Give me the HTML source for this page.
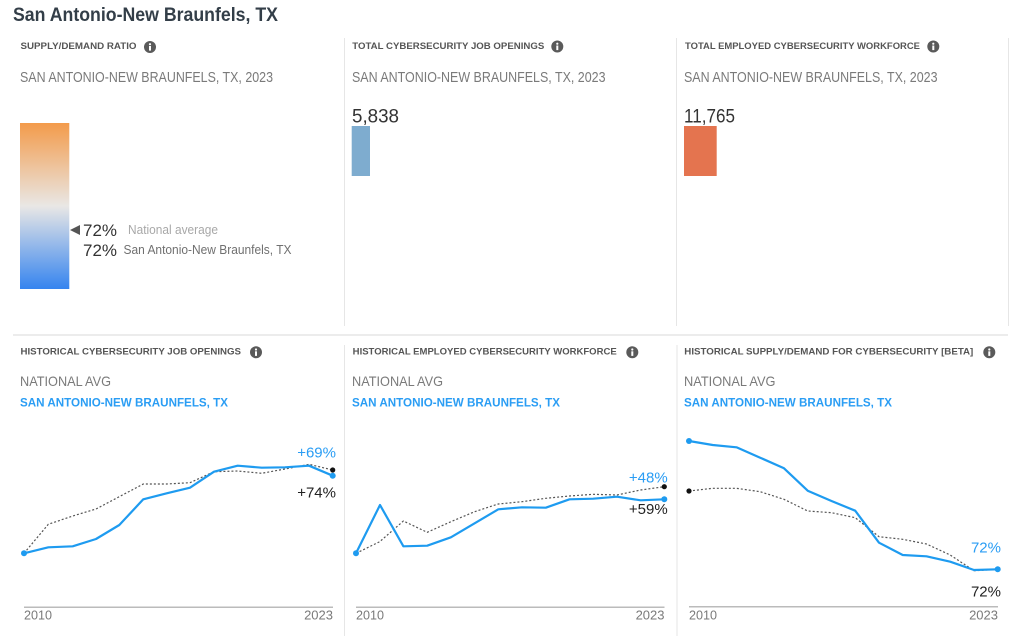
<!DOCTYPE html>
<html><head><meta charset="utf-8"><style>
html,body{margin:0;padding:0;background:#fff;width:1024px;height:636px;overflow:hidden}
svg{display:block}
text{font-family:"Liberation Sans",sans-serif}
.h{font-size:9px;font-weight:bold;fill:#555}
.sub{font-size:15px;fill:#7a7a7a}
.nat{font-size:14px;fill:#7a7a7a}
.blu{font-size:12px;font-weight:bold;fill:#2a9df4}
.yr{font-size:13px;fill:#7a7a7a}
.pb{font-size:15px;fill:#2a9df4}
.pk{font-size:15px;fill:#222}
</style></head><body>
<svg width="1024" height="636" viewBox="0 0 1024 636" xmlns="http://www.w3.org/2000/svg">
<defs>
<linearGradient id="g" x1="0" y1="0" x2="0" y2="1">
<stop offset="0" stop-color="#f39b4b"/>
<stop offset="0.5" stop-color="#e9e7e5"/>
<stop offset="1" stop-color="#3584ef"/>
</linearGradient>
<g id="info"><circle r="6" fill="#5a5a5a"/><circle cx="0" cy="-2.8" r="1.1" fill="#fff"/><rect x="-1" y="-1" width="2" height="4.6" fill="#fff"/></g>
</defs>

<!-- separators -->
<g stroke="#e6e6e6" stroke-width="1">
<line x1="344.5" y1="38" x2="344.5" y2="326"/>
<line x1="676.5" y1="38" x2="676.5" y2="326"/>
<line x1="1008.5" y1="38" x2="1008.5" y2="326"/>
<line x1="13" y1="335" x2="1008" y2="335" stroke-width="1.5"/>
<line x1="344.5" y1="345" x2="344.5" y2="636"/>
<line x1="677" y1="345" x2="677" y2="636"/>
</g>

<text x="13" y="21" font-size="19" font-weight="bold" fill="#333e48" textLength="265" lengthAdjust="spacingAndGlyphs">San Antonio-New Braunfels, TX</text>

<!-- top left -->
<text class="h" x="20.5" y="49" textLength="116" lengthAdjust="spacingAndGlyphs">SUPPLY/DEMAND RATIO</text>
<use href="#info" x="150" y="47"/>
<text class="sub" x="20" y="82" textLength="253" lengthAdjust="spacingAndGlyphs">SAN ANTONIO-NEW BRAUNFELS, TX, 2023</text>
<rect x="20" y="123" width="49.3" height="166" fill="url(#g)"/>
<polygon points="70,230 80,225 80,235" fill="#555"/>
<text x="83" y="236" font-size="17" fill="#333" textLength="34" lengthAdjust="spacingAndGlyphs">72%</text>
<text x="128" y="234" font-size="12.5" fill="#a8a8a8" textLength="90" lengthAdjust="spacingAndGlyphs">National average</text>
<text x="83" y="256" font-size="17" fill="#333" textLength="34" lengthAdjust="spacingAndGlyphs">72%</text>
<text x="123.5" y="254" font-size="12.5" fill="#707070" textLength="168" lengthAdjust="spacingAndGlyphs">San Antonio-New Braunfels, TX</text>

<!-- top center -->
<text class="h" x="352.3" y="49" textLength="192" lengthAdjust="spacingAndGlyphs">TOTAL CYBERSECURITY JOB OPENINGS</text>
<use href="#info" x="557.3" y="46.5"/>
<text class="sub" x="352" y="82" textLength="253.5" lengthAdjust="spacingAndGlyphs">SAN ANTONIO-NEW BRAUNFELS, TX, 2023</text>
<text x="352" y="122.5" font-size="19" fill="#333" textLength="47" lengthAdjust="spacingAndGlyphs">5,838</text>
<rect x="351.7" y="126" width="18.3" height="50" fill="#7eaccf"/>

<!-- top right -->
<text class="h" x="685" y="49" textLength="235" lengthAdjust="spacingAndGlyphs">TOTAL EMPLOYED CYBERSECURITY WORKFORCE</text>
<use href="#info" x="933.3" y="46.5"/>
<text class="sub" x="684" y="82" textLength="253.5" lengthAdjust="spacingAndGlyphs">SAN ANTONIO-NEW BRAUNFELS, TX, 2023</text>
<text x="684" y="122.5" font-size="19" fill="#333" textLength="51" lengthAdjust="spacingAndGlyphs">11,765</text>
<rect x="684" y="126" width="32.7" height="50" fill="#e4744f"/>

<!-- bottom headers -->
<text class="h" x="20.5" y="354.5" textLength="220.5" lengthAdjust="spacingAndGlyphs">HISTORICAL CYBERSECURITY JOB OPENINGS</text>
<use href="#info" x="256" y="352.3"/>
<text class="nat" x="20" y="386" textLength="91" lengthAdjust="spacingAndGlyphs">NATIONAL AVG</text>
<text class="blu" x="20" y="406.5" textLength="208" lengthAdjust="spacingAndGlyphs">SAN ANTONIO-NEW BRAUNFELS, TX</text>

<text class="h" x="352.7" y="354.5" textLength="264" lengthAdjust="spacingAndGlyphs">HISTORICAL EMPLOYED CYBERSECURITY WORKFORCE</text>
<use href="#info" x="632.3" y="352.3"/>
<text class="nat" x="352" y="386" textLength="91" lengthAdjust="spacingAndGlyphs">NATIONAL AVG</text>
<text class="blu" x="352" y="406.5" textLength="208" lengthAdjust="spacingAndGlyphs">SAN ANTONIO-NEW BRAUNFELS, TX</text>

<text class="h" x="684.3" y="354.5" textLength="289" lengthAdjust="spacingAndGlyphs">HISTORICAL SUPPLY/DEMAND FOR CYBERSECURITY [BETA]</text>
<use href="#info" x="989.3" y="352.3"/>
<text class="nat" x="684" y="386" textLength="91.5" lengthAdjust="spacingAndGlyphs">NATIONAL AVG</text>
<text class="blu" x="684" y="406.5" textLength="208" lengthAdjust="spacingAndGlyphs">SAN ANTONIO-NEW BRAUNFELS, TX</text>

<!-- chart 1 -->
<line x1="24" y1="607.3" x2="333" y2="607.3" stroke="#bbb" stroke-width="1.5"/>
<text class="yr" x="24" y="619.5" textLength="28" lengthAdjust="spacingAndGlyphs">2010</text>
<text class="yr" x="333" y="619.5" text-anchor="end">2023</text>
<polyline fill="none" stroke="#555" stroke-width="1.2" stroke-dasharray="2,2" points="24,553.3 48.3,524.3 72.7,516 96,509 119.3,496.7 143.3,484 166.7,484 190,482.7 214,471.7 237.7,471 261.7,473.3 285,469 309,464.3 332.7,470"/>
<polyline fill="none" stroke="#1e9bf0" stroke-width="2.2" stroke-linejoin="round" points="24,553.3 48.3,547.3 72.7,546.3 96,539 119.3,525 143.3,499.3 166.7,493.3 190,487.7 214,471.7 237.7,465.7 261.7,467.7 285,467.3 309,465.7 332.7,475.7"/>
<circle cx="332.7" cy="470" r="2.6" fill="#111"/>
<circle cx="24" cy="553.3" r="3" fill="#1e9bf0"/>
<circle cx="332.7" cy="475.7" r="3" fill="#1e9bf0"/>
<text class="pb" x="336" y="457.5" text-anchor="end">+69%</text>
<text class="pk" x="336" y="497.3" text-anchor="end">+74%</text>

<!-- chart 2 -->
<line x1="356" y1="607.3" x2="664.5" y2="607.3" stroke="#bbb" stroke-width="1.5"/>
<text class="yr" x="356" y="619.5" textLength="28" lengthAdjust="spacingAndGlyphs">2010</text>
<text class="yr" x="664.5" y="619.5" text-anchor="end">2023</text>
<polyline fill="none" stroke="#555" stroke-width="1.2" stroke-dasharray="2,2" points="356,553.3 379.7,541.7 403.4,521 427.2,532.3 450.9,521.7 474.6,511.7 498.3,504 522,501.7 545.8,498.3 569.5,496 593.2,494.3 616.9,495 640.6,490 664.3,486.7"/>
<polyline fill="none" stroke="#1e9bf0" stroke-width="2.2" stroke-linejoin="round" points="356,553.3 380,505 403.4,546.3 427.2,545.7 450.9,537.3 474.6,523.3 498.3,509.3 522,507.3 545.8,507.7 569.5,499.3 593.2,498.7 616.9,496.7 640.6,500.3 664.3,499.3"/>
<circle cx="664.3" cy="486.7" r="2.6" fill="#111"/>
<circle cx="356" cy="553.3" r="3" fill="#1e9bf0"/>
<circle cx="664.3" cy="499.3" r="3" fill="#1e9bf0"/>
<text class="pb" x="667.7" y="482.3" text-anchor="end">+48%</text>
<text class="pk" x="667.7" y="514" text-anchor="end">+59%</text>

<!-- chart 3 -->
<line x1="689" y1="606.7" x2="998" y2="606.7" stroke="#bbb" stroke-width="1.5"/>
<text class="yr" x="689" y="619.3" textLength="28" lengthAdjust="spacingAndGlyphs">2010</text>
<text class="yr" x="998" y="619.3" text-anchor="end">2023</text>
<polyline fill="none" stroke="#555" stroke-width="1.2" stroke-dasharray="2,2" points="689,491 712.7,488.3 736.5,488.3 760.2,491.7 784,499.3 807.7,511 831.5,512.7 855.2,517.7 879,536.7 902.7,539.3 926.5,544 950.2,555 974,570.7 997.7,569.3"/>
<polyline fill="none" stroke="#1e9bf0" stroke-width="2.2" stroke-linejoin="round" points="689,441 712.7,445 736.5,447.3 760.2,457.7 784,468.3 807.7,490.7 831.5,501 855.2,510.7 879,542.7 902.7,555 926.5,556.3 950.2,561.7 974,570 997.7,569.3"/>
<circle cx="689" cy="491" r="2.6" fill="#111"/>
<circle cx="689" cy="441" r="3" fill="#1e9bf0"/>
<circle cx="997.7" cy="569.3" r="3" fill="#1e9bf0"/>
<text class="pb" x="1001" y="552.7" text-anchor="end">72%</text>
<text class="pk" x="1001" y="596.7" text-anchor="end">72%</text>
</svg>
</body></html>
